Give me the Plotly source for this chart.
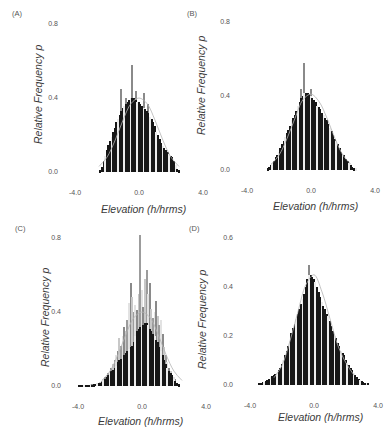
import numpy as np
import plotly.graph_objects as go

W, H = 386, 427
STEP = 0.1

# ---------------- data ----------------
# Panel A: dark histogram bars, first bin centre and heights
a_start = -2.4
a_dark = [0.01, 0.03, 0.06, 0.09, 0.12, 0.15, 0.17, 0.19, 0.22, 0.24,
          0.27, 0.29, 0.31, 0.33, 0.35, 0.36, 0.37, 0.38, 0.39, 0.40,
          0.40, 0.40, 0.39, 0.38, 0.38, 0.37, 0.36, 0.35, 0.34, 0.33,
          0.32, 0.30, 0.29, 0.27, 0.25, 0.22, 0.20, 0.18, 0.16, 0.14,
          0.13, 0.12, 0.11, 0.10, 0.09, 0.08, 0.06, 0.04, 0.02, 0.01]
a_light_x = [-1.1, -0.8, -0.4, -0.2, 0.3, 0.6]
a_light_y = [0.45, 0.40, 0.58, 0.44, 0.43, 0.37]

# Panel B
b_start = -2.7
b_dark = [0.01, 0.02, 0.03, 0.04, 0.05, 0.07, 0.08, 0.10, 0.12, 0.14,
          0.16, 0.18, 0.20, 0.22, 0.24, 0.27, 0.28, 0.30, 0.32, 0.35,
          0.37, 0.39, 0.40, 0.42, 0.42, 0.42, 0.41, 0.40, 0.39, 0.38,
          0.37, 0.35, 0.34, 0.33, 0.31, 0.30, 0.28, 0.27, 0.25, 0.23,
          0.21, 0.19, 0.17, 0.16, 0.14, 0.12, 0.10, 0.09, 0.08, 0.06,
          0.05, 0.04, 0.03, 0.02, 0.01, 0.01]
b_light_x = [-0.6, -0.4, 0.0]
b_light_y = [0.44, 0.58, 0.44]

# Panel C
c_start = -3.9
c_dark = [0.003, 0.003, 0.004, 0.004, 0.005, 0.005, 0.006, 0.007, 0.008, 0.01,
          0.012, 0.014, 0.016, 0.02, 0.024, 0.03, 0.04, 0.05, 0.06, 0.07,
          0.08, 0.09, 0.10, 0.11, 0.13, 0.14, 0.15, 0.16, 0.17, 0.18,
          0.19, 0.20, 0.21, 0.22, 0.24, 0.27, 0.30, 0.31, 0.32, 0.32,
          0.33, 0.34, 0.34, 0.33, 0.31, 0.30, 0.28, 0.27, 0.25, 0.24,
          0.21, 0.19, 0.17, 0.14, 0.12, 0.10, 0.08, 0.07, 0.06, 0.04,
          0.03, 0.02, 0.01]
c_light = [0.005, 0.005, 0.005, 0.005, 0.006, 0.007, 0.008, 0.01, 0.01, 0.012,
           0.014, 0.016, 0.02, 0.025, 0.03, 0.04, 0.05, 0.06, 0.07, 0.08,
           0.10, 0.12, 0.14, 0.17, 0.19, 0.26, 0.22, 0.27, 0.32, 0.30,
           0.36, 0.45, 0.56, 0.48, 0.40, 0.44, 0.41, 0.50, 0.82, 0.52,
           0.43, 0.58, 0.63, 0.50, 0.56, 0.42, 0.37, 0.40, 0.46, 0.38,
           0.33, 0.36, 0.28, 0.21, 0.17, 0.13, 0.10, 0.08, 0.06, 0.05,
           0.04, 0.02, 0.01]

# Panel D
d_start = -3.4
d_dark = [0.005, 0.007, 0.01, 0.012, 0.015, 0.02, 0.025, 0.03, 0.035, 0.04,
          0.045, 0.05, 0.06, 0.07, 0.085, 0.10, 0.12, 0.14, 0.16, 0.18,
          0.21, 0.23, 0.25, 0.27, 0.29, 0.31, 0.33, 0.35, 0.37, 0.40,
          0.43, 0.45, 0.45, 0.44, 0.43, 0.42, 0.40, 0.38, 0.36, 0.34,
          0.32, 0.31, 0.29, 0.28, 0.26, 0.24, 0.22, 0.20, 0.19, 0.17,
          0.16, 0.14, 0.13, 0.12, 0.10, 0.09, 0.08, 0.07, 0.06, 0.05,
          0.04, 0.03, 0.025, 0.02, 0.015, 0.01, 0.008, 0.006, 0.005]
d_light_x = [-0.3]
d_light_y = [0.49]

# Faint fitted curves
fit_x = [-2.5, -2.0, -1.5, -1.0, -0.5, 0.0, 0.5, 1.0, 1.5, 2.0, 2.5]
a_fit = [0.03, 0.08, 0.17, 0.28, 0.37, 0.40, 0.37, 0.28, 0.17, 0.08, 0.03]
b_fit = [0.03, 0.08, 0.17, 0.28, 0.38, 0.41, 0.37, 0.28, 0.17, 0.08, 0.03]
c_fit = [0.03, 0.08, 0.17, 0.28, 0.37, 0.40, 0.37, 0.28, 0.17, 0.08, 0.03]
d_fit = [0.03, 0.08, 0.18, 0.30, 0.41, 0.45, 0.38, 0.27, 0.16, 0.09, 0.04]

x_tickvals = [-4, 0, 4]
x_ticktext = ["-4.0", "0.0", "4.0"]
y_tick_abc = [0, 0.4, 0.8]
y_text_abc = ["0.0", "0.4", "0.8"]
y_tick_d = [0, 0.2, 0.4, 0.6]
y_text_d = ["0.0", "0.2", "0.4", "0.6"]

panel_labels = ["(A)", "(B)", "(C)", "(D)"]
x_title = "Elevation (h/hrms)"
y_title = "Relative Frequency p"

# ---------------- styling / geometry (pixels) ----------------
DARK = "#171717"
STRIPE = "#ececec"
LIGHTS = ["#8a8a8a", "#c8c8c8", "#9c9c9c", "#e2e2e2"]
FIT = "#b4b4b4"
TXT = "#4a4a4a"
FONT = "Liberation Sans, Arial, sans-serif"


def centers(start, n):
    return list(np.round(start + STEP * np.arange(n), 2))


def stripe_colors(n):
    return [STRIPE if i % 4 == 3 else DARK for i in range(n)]


def light_colors(n):
    return [LIGHTS[i % 4] for i in range(n)]


panels = [
    dict(xc=139, zero=172, ppy=185, yr=[-0.02, 0.85],
         dark=(a_start, a_dark), light=(a_light_x, a_light_y), fit=a_fit,
         tv=y_tick_abc, tt=y_text_abc),
    dict(xc=311, zero=170, ppy=185, yr=[-0.02, 0.85],
         dark=(b_start, b_dark), light=(b_light_x, b_light_y), fit=b_fit,
         tv=y_tick_abc, tt=y_text_abc),
    dict(xc=142, zero=386, ppy=185, yr=[-0.02, 0.85],
         dark=(c_start, c_dark), light=(centers(c_start, len(c_light)), c_light), fit=c_fit,
         tv=y_tick_abc, tt=y_text_abc),
    dict(xc=314, zero=385, ppy=245, yr=[-0.015, 0.64],
         dark=(d_start, d_dark), light=(d_light_x, d_light_y), fit=d_fit,
         tv=y_tick_d, tt=y_text_d),
]

PPX = 16
XR = [-4.5, 4.5]

fig = go.Figure()
layout = dict(
    width=W, height=H, margin=dict(l=0, r=0, t=0, b=0),
    paper_bgcolor="white", plot_bgcolor="rgba(0,0,0,0)",
    showlegend=False, barmode="overlay", bargap=0,
    font=dict(family=FONT, color=TXT),
)

for i, p in enumerate(panels):
    k = "" if i == 0 else str(i + 1)
    xa, ya = "x" + k, "y" + k
    left = p["xc"] + XR[0] * PPX
    right = p["xc"] + XR[1] * PPX
    bottom = p["zero"] - p["yr"][0] * p["ppy"]
    top = p["zero"] - p["yr"][1] * p["ppy"]

    fig.add_trace(go.Scatter(x=fit_x, y=p["fit"], mode="lines",
                             line=dict(color=FIT, width=0.8, shape="spline"),
                             xaxis=xa, yaxis=ya, hoverinfo="skip"))
    lx, ly = p["light"]
    fig.add_trace(go.Bar(x=lx, y=ly, width=STEP,
                         marker=dict(color=light_colors(len(ly)) if len(ly) > 10 else "#8a8a8a",
                                     line=dict(width=0)),
                         xaxis=xa, yaxis=ya, hoverinfo="skip"))
    s, vals = p["dark"]
    fig.add_trace(go.Bar(x=centers(s, len(vals)), y=vals, width=STEP,
                         marker=dict(color=stripe_colors(len(vals)), line=dict(width=0)),
                         xaxis=xa, yaxis=ya, hoverinfo="skip"))

    layout["xaxis" + k] = dict(domain=[left / W, right / W], range=XR, anchor=ya,
                               tickvals=x_tickvals, ticktext=x_ticktext, ticks="",
                               showgrid=False, zeroline=False, showline=False,
                               ticklabelstandoff=11,
                               tickfont=dict(size=7, color="#555", family=FONT))
    layout["yaxis" + k] = dict(domain=[1 - bottom / H, 1 - top / H], range=p["yr"], anchor=xa,
                               tickvals=p["tv"], ticktext=p["tt"], ticks="",
                               showgrid=False, zeroline=False, showline=False,
                               ticklabelstandoff=8,
                               tickfont=dict(size=7, color="#555", family=FONT))

fig.update_layout(**layout)

ann = []
label_pos = [(17, 13), (192, 13), (20, 228), (194, 228)]
xt_pos = [(143, 209), (315, 206), (140, 421), (320, 417)]
yt_pos = [(38, 95), (201, 85), (45, 318), (202, 320)]
for i in range(4):
    ann.append(dict(x=label_pos[i][0] / W, y=1 - label_pos[i][1] / H, xref="paper", yref="paper",
                    text=panel_labels[i], showarrow=False, font=dict(size=7.5, color="#555"),
                    xanchor="center", yanchor="middle"))
    ann.append(dict(x=xt_pos[i][0] / W, y=1 - xt_pos[i][1] / H, xref="paper", yref="paper",
                    text="<i>" + x_title + "</i>", showarrow=False, font=dict(size=10.5, color="#3a3a3a"),
                    xanchor="center", yanchor="middle"))
    ann.append(dict(x=yt_pos[i][0] / W, y=1 - yt_pos[i][1] / H, xref="paper", yref="paper",
                    text="<i>" + y_title + "</i>", showarrow=False, textangle=-90,
                    font=dict(size=10.5, color="#3a3a3a"),
                    xanchor="center", yanchor="middle"))
fig.update_layout(annotations=ann)

fig.write_html("out.html")
